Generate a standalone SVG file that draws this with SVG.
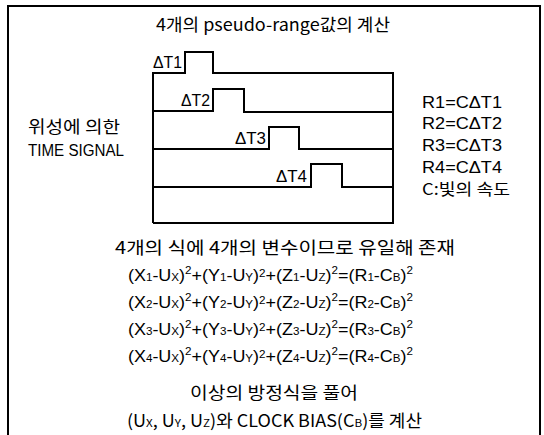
<svg xmlns="http://www.w3.org/2000/svg" width="544" height="435" viewBox="0 0 544 435">
<style>
.t{font-family:"Liberation Sans","Noto Sans CJK KR",sans-serif;fill:#000;}
.k{font-family:"Noto Sans CJK KR","Liberation Sans",sans-serif;fill:#000;}
.ln{fill:none;stroke:#000;stroke-width:2;}
.sub{font-size:11px;}
.sup{font-size:11px;}
</style>
<rect width="544" height="435" fill="#fff"/>
<path class="ln" d="M8,436 V6 H540 V436" stroke-width="1.8"/>
<g id="title"><text class="k" x="273" y="31" font-size="17" text-anchor="middle" textLength="234" lengthAdjust="spacingAndGlyphs">4개의 pseudo-range값의 계산</text></g>
<g id="left-label">
<text class="k" x="74" y="133" font-size="17" text-anchor="middle" textLength="92" lengthAdjust="spacingAndGlyphs">위성에 의한</text>
<text class="t" x="76" y="156" font-size="16" text-anchor="middle" textLength="96" lengthAdjust="spacingAndGlyphs">TIME SIGNAL</text>
</g>
<g id="timing">
<path class="ln" d="M153,223 V73 H185 V52 H213 V73 H393 V223 H153"/>
<path class="ln" d="M153,111 H213 V89 H244 V112 H393"/>
<path class="ln" d="M153,149 H269 V127 H299 V149 H393"/>
<path class="ln" d="M153,187 H311 V164 H342 V187 H393"/>
<text class="t" x="182" y="68" font-size="16" text-anchor="end" textLength="29" lengthAdjust="spacingAndGlyphs">ΔT1</text>
<text class="t" x="210" y="106" font-size="16" text-anchor="end" textLength="29" lengthAdjust="spacingAndGlyphs">ΔT2</text>
<text class="t" x="266" y="144" font-size="16" text-anchor="end" textLength="31" lengthAdjust="spacingAndGlyphs">ΔT3</text>
<text class="t" x="307" y="182" font-size="16" text-anchor="end" textLength="31" lengthAdjust="spacingAndGlyphs">ΔT4</text>
</g>
<g id="ranges">
<text class="t" x="422" y="108" font-size="16" textLength="80" lengthAdjust="spacingAndGlyphs">R1=CΔT1</text>
<text class="t" x="422" y="129" font-size="16" textLength="80" lengthAdjust="spacingAndGlyphs">R2=CΔT2</text>
<text class="t" x="422" y="151" font-size="16" textLength="80" lengthAdjust="spacingAndGlyphs">R3=CΔT3</text>
<text class="t" x="422" y="173" font-size="16" textLength="80" lengthAdjust="spacingAndGlyphs">R4=CΔT4</text>
<text class="k" x="422" y="195" font-size="16" textLength="88" lengthAdjust="spacingAndGlyphs">C:빛의 속도</text>
</g>
<g id="equations">
<text class="k" x="285" y="254" font-size="17" text-anchor="middle" textLength="340" lengthAdjust="spacingAndGlyphs">4개의 식에 4개의 변수이므로 유일해 존재</text>
<text class="t" x="128" y="281" font-size="17" textLength="285" lengthAdjust="spacingAndGlyphs">(X<tspan class="sub">1</tspan>-U<tspan class="sub">X</tspan>)<tspan class="sup" baseline-shift="7">2</tspan>+(Y<tspan class="sub">1</tspan>-U<tspan class="sub">Y</tspan>)<tspan class="sup" baseline-shift="4">2</tspan>+(Z<tspan class="sub">1</tspan>-U<tspan class="sub">Z</tspan>)<tspan class="sup" baseline-shift="7">2</tspan>=(R<tspan class="sub">1</tspan>-C<tspan class="sub">B</tspan>)<tspan class="sup" baseline-shift="7">2</tspan></text>
<text class="t" x="128" y="308" font-size="17" textLength="285" lengthAdjust="spacingAndGlyphs">(X<tspan class="sub">2</tspan>-U<tspan class="sub">X</tspan>)<tspan class="sup" baseline-shift="7">2</tspan>+(Y<tspan class="sub">2</tspan>-U<tspan class="sub">Y</tspan>)<tspan class="sup" baseline-shift="4">2</tspan>+(Z<tspan class="sub">2</tspan>-U<tspan class="sub">Z</tspan>)<tspan class="sup" baseline-shift="7">2</tspan>=(R<tspan class="sub">2</tspan>-C<tspan class="sub">B</tspan>)<tspan class="sup" baseline-shift="7">2</tspan></text>
<text class="t" x="128" y="335" font-size="17" textLength="285" lengthAdjust="spacingAndGlyphs">(X<tspan class="sub">3</tspan>-U<tspan class="sub">X</tspan>)<tspan class="sup" baseline-shift="7">2</tspan>+(Y<tspan class="sub">3</tspan>-U<tspan class="sub">Y</tspan>)<tspan class="sup" baseline-shift="4">2</tspan>+(Z<tspan class="sub">3</tspan>-U<tspan class="sub">Z</tspan>)<tspan class="sup" baseline-shift="7">2</tspan>=(R<tspan class="sub">3</tspan>-C<tspan class="sub">B</tspan>)<tspan class="sup" baseline-shift="7">2</tspan></text>
<text class="t" x="128" y="362" font-size="17" textLength="285" lengthAdjust="spacingAndGlyphs">(X<tspan class="sub">4</tspan>-U<tspan class="sub">X</tspan>)<tspan class="sup" baseline-shift="7">2</tspan>+(Y<tspan class="sub">4</tspan>-U<tspan class="sub">Y</tspan>)<tspan class="sup" baseline-shift="4">2</tspan>+(Z<tspan class="sub">4</tspan>-U<tspan class="sub">Z</tspan>)<tspan class="sup" baseline-shift="7">2</tspan>=(R<tspan class="sub">4</tspan>-C<tspan class="sub">B</tspan>)<tspan class="sup" baseline-shift="7">2</tspan></text>
<text class="k" x="274" y="399" font-size="17" text-anchor="middle" textLength="168" lengthAdjust="spacingAndGlyphs">이상의 방정식을 풀어</text>
<text class="k" x="127" y="427" font-size="17" textLength="295" lengthAdjust="spacingAndGlyphs">(U<tspan class="sub">X</tspan>, U<tspan class="sub">Y</tspan>, U<tspan class="sub">Z</tspan>)와 CLOCK BIAS(C<tspan class="sub">B</tspan>)를 계산</text>
</g>
</svg>
